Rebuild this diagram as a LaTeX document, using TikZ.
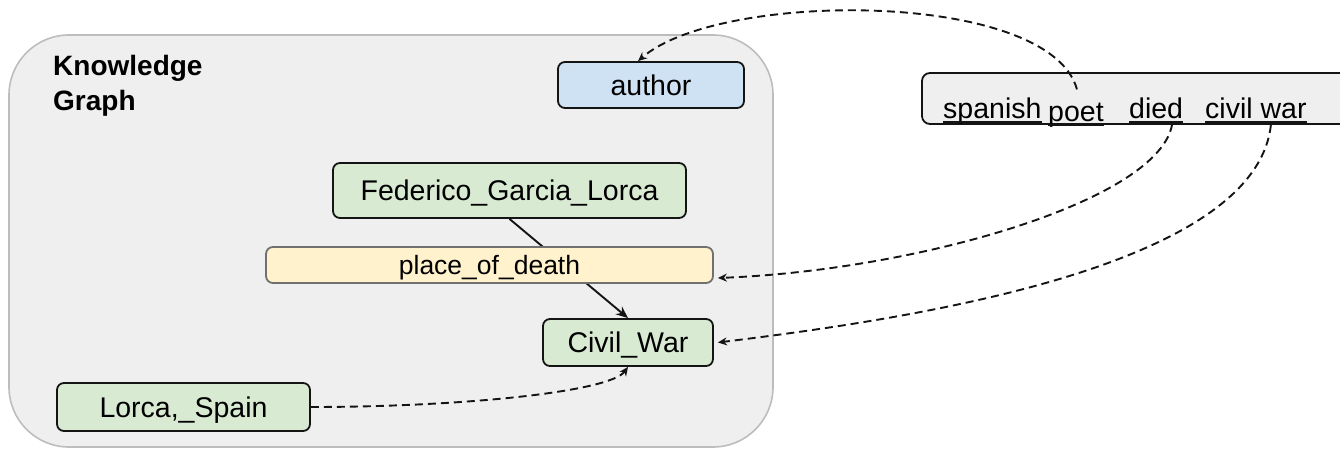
\documentclass[tikz,border=0pt]{standalone}
\usepackage{fontspec}
\setmainfont{Liberation Sans}
\usetikzlibrary{arrows.meta,calc}
\definecolor{panelfill}{HTML}{EFEFEF}
\definecolor{paneledge}{HTML}{BDBDBD}
\definecolor{bluefill}{HTML}{CFE2F3}
\definecolor{greenfill}{HTML}{D9EAD3}
\definecolor{yellowfill}{HTML}{FFF2CC}
\definecolor{ink}{HTML}{141414}
\definecolor{greyedge}{HTML}{707070}
\begin{document}
\begin{tikzpicture}[x=1pt,y=-1pt,
  txt/.style={font=\fontsize{28.5}{34}\selectfont},
  box/.style={txt,draw=ink,line width=1.8pt,rounded corners=7pt,inner sep=0pt,
    text height=20.5pt,text depth=0pt},
  entity/.style={box,fill=greenfill},
  relation/.style={box,fill=bluefill},
  predicate/.style={box,fill=yellowfill,draw=greyedge,
    font=\fontsize{26.5}{32}\selectfont,text height=19pt},
  word/.style={txt,inner sep=0pt,anchor=base west},
  kglabel/.style={font=\bfseries\fontsize{28}{34}\selectfont,inner sep=0pt,anchor=base west},
  link/.style={ink,line width=1.9pt},
  dashlink/.style={link,dash pattern=on 8pt off 5pt,-{Stealth[length=9pt,width=8pt]}},
  solidlink/.style={link,-{Stealth[length=12pt,width=10pt]}}
]
\useasboundingbox (0,0) rectangle (1340,449);
\clip (0,0) rectangle (1340,449);

% knowledge graph panel
\node[draw=paneledge,fill=panelfill,line width=1.6pt,rounded corners=60pt,
  minimum width=764pt,minimum height=412pt] (panel) at (391,241) {};
\node[kglabel] (kgA) at (53,76) {Knowledge};
\node[kglabel] (kgB) at (53,111) {Graph};

% graph nodes
\node[relation,minimum width=186pt,minimum height=46pt] (author) at (651,85) {author};
\node[entity,minimum width=353pt,minimum height=55pt] (fgl) at (509.5,190.5) {Federico\_Garcia\_Lorca};
\node[entity,minimum width=170pt,minimum height=47pt] (cw) at (628,342.5) {Civil\_War};
\node[entity,minimum width=253pt,minimum height=48pt] (lorca) at (183.5,407) {Lorca,\_Spain};

% the edge runs behind its predicate label
\draw[solidlink] (fgl.south) -- (cw.north);
\node[predicate,minimum width=447pt,minimum height=36pt] (pod) at (489.5,265) {place\_of\_death};

% input sentence
\node[draw=ink,fill=panelfill,line width=1.8pt,rounded corners=8pt,
  minimum width=478pt,minimum height=51pt] (sent) at (1161,98.5) {};
\node[word] (w1) at (943,119) {spanish};
\node[word] (w2) at (1048,122) {poet};
\node[word] (w3) at (1129,119) {died};
\node[word] (w4) at (1205,119) {civil war};
\foreach \w in {w1,w2,w3,w4}
  \draw[ink,line width=1.5pt] ($(\w.base west)+(0,3)$) -- ($(\w.base east)+(0,3)$);

% links from the sentence to the graph
\coordinate (poetTop) at ($(w2.north)+(1,-14)$);
\coordinate (diedFoot) at ($(w3.base)+(16,5)$);
\coordinate (warFoot) at ($(w4.base)+(15,6)$);
\draw[dashlink] (poetTop) .. controls (1050,-10) and (720,-10) .. ($(author.north)+(-13,0)$);
\draw[dashlink] (diedFoot) .. controls (1160,200) and (920,270) .. ($(pod.east)+(4,13)$);
\draw[dashlink] (warFoot) .. controls (1255,270) and (900,320) .. ($(cw.east)+(4,0)$);
\draw[dashlink] (lorca.east) .. controls (460,407) and (610,392) .. (cw.south);
\end{tikzpicture}
\end{document}
